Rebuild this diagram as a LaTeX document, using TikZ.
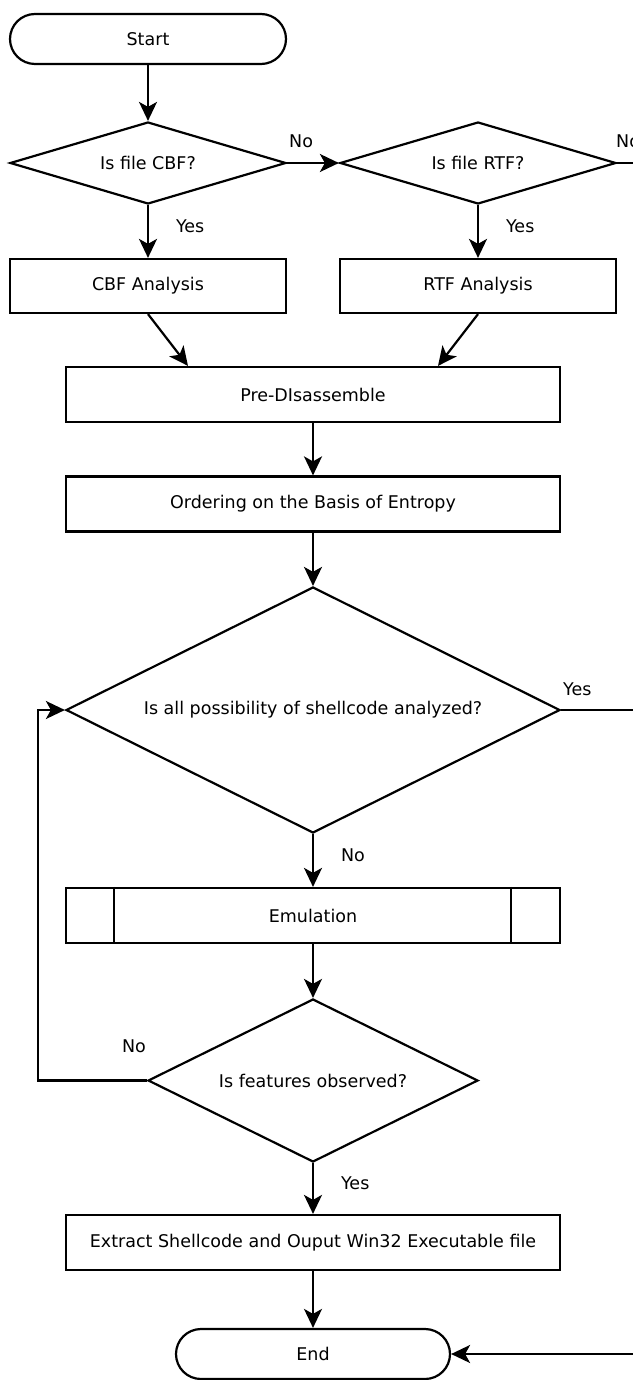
\documentclass[tikz,border=0pt]{standalone}
\usepackage{fontspec}
\setmainfont{DejaVu Sans}
\usepackage{tikz}
\usetikzlibrary{arrows.meta,positioning,shapes.geometric}

\begin{document}
\begin{tikzpicture}
              [x=1pt,y=-1pt,line width=2.2pt,
                every node/.style={font=\fontsize{17.5}{21}\selectfont},
                term/.style={rectangle,draw,rounded corners=25pt,minimum width=276pt,minimum height=50pt},
                proc/.style={rectangle,draw,minimum width=494pt,minimum height=55pt},
                decide/.style={diamond,draw,inner sep=0pt,aspect=2},
                lbl/.style={inner sep=0pt},
                arr/.style={-{Stealth[length=19pt,width=18pt,inset=5pt]}}]
              \useasboundingbox (0,0) rectangle (632,1380);
              \node[term] (start) at (148,39) {Start};
              \node[decide,aspect=3.4,minimum width=276pt,minimum height=82pt] (cbf) at (148,163) {Is file CBF?};
              \node[decide,aspect=3.4,minimum width=276pt,minimum height=82pt] (rtf) at (478,163) {Is file RTF?};
              \node[proc,minimum width=276pt,minimum height=54pt] (cbfa) at (148,286) {CBF Analysis};
              \node[proc,minimum width=276pt,minimum height=54pt] (rtfa) at (478,286) {RTF Analysis};
              \node[proc] (predis) at (313,394.5) {Pre-DIsassemble};
              \node[proc] (order) at (313,504) {Ordering on the Basis of Entropy};
              \node[decide,minimum width=494pt,minimum height=246pt] (allchk) at (313,710) {Is all possibility of shellcode analyzed?};
              \node[proc] (emu) at (313,915.5) {Emulation};
              \node[decide,minimum width=330pt,minimum height=163pt] (feat) at (313,1080.5) {Is features observed?};
              \node[proc] (extract) at (313,1242.5) {Extract Shellcode and Ouput Win32 Executable file};
              \node[term,minimum width=274pt] (end) at (313,1354) {End};
              \coordinate (rtfout) at (645,163);
              \coordinate (yesout) at (645,710);
              \coordinate (endin) at (645,1354);
              % sub-process bars
              \draw ([xshift=49pt]emu.north west) -- ([xshift=49pt]emu.south west);
              \draw ([xshift=-50pt]emu.north east) -- ([xshift=-50pt]emu.south east);
              % flow
              \draw[arr] (start) -- (cbf);
              \draw[arr] (cbf) -- node[lbl,at start,above right=14pt and 1pt] {No} (rtf);
              \draw (rtf) -- node[lbl,at start,above right=14pt and -2pt] {No} (rtfout);
              \draw[arr] (cbf) -- node[lbl,pos=0.4,right=27pt] {Yes} (cbfa);
              \draw[arr] (rtf) -- node[lbl,pos=0.4,right=27pt] {Yes} (rtfa);
              \draw[arr] (cbfa.south) -- ([xshift=-125pt]predis.north);
              \draw[arr] (rtfa.south) -- ([xshift=125pt]predis.north);
              \draw[arr] (predis) -- (order);
              \draw[arr] (order) -- (allchk);
              \draw (allchk) -- node[lbl,at start,above right=13pt and 1pt] {Yes} (yesout);
              \draw[arr] (allchk) -- node[lbl,pos=0.4,right=27pt] {No} (emu);
              \draw[arr] (emu) -- (feat);
              \draw[arr] (feat.west) -- node[lbl,at start,above left=27pt and 0pt] {No} ++(-109,0) |- (allchk.west);
              \draw[arr] (feat) -- node[lbl,pos=0.4,right=27pt] {Yes} (extract);
              \draw[arr] (extract) -- (end);
              \draw[arr] (endin) -- (end);
            \end{tikzpicture}
\end{document}
